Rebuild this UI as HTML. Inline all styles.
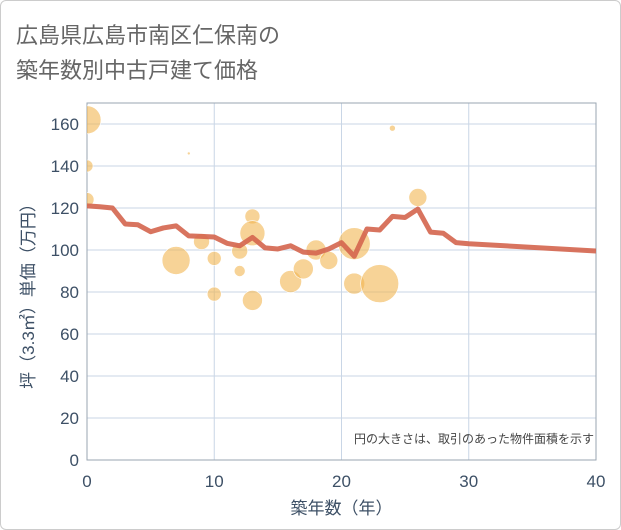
<!DOCTYPE html>
<html><head><meta charset="utf-8"><style>
body{margin:0;background:#fff;}
.card{position:absolute;left:0;top:0;width:619px;height:528px;border:1px solid #ccc;border-radius:6px;background:#fff;}
.t{position:absolute;left:16px;font:22px "Liberation Sans","Noto Sans CJK JP",sans-serif;color:#666;}
svg{position:absolute;left:0;top:0;}
text{font-family:"Liberation Sans","Noto Sans CJK JP",sans-serif;}
</style></head><body>
<div class="card"></div>
<div class="t" style="top:18px">広島県広島市南区仁保南の</div>
<div class="t" style="top:53px">築年数別中古戸建て価格</div>
<svg id="c" width="621" height="530"><defs><clipPath id="pc"><rect x="87" y="103" width="509" height="357"/></clipPath></defs></svg>
<script>
const xTicks=[0,10,20,30,40];
const yTicks=[0,20,40,60,80,100,120,140,160];
const lineYears=[0,1,2,3,4,5,6,7,8,9,10,11,12,13,14,15,16,17,18,19,20,21,22,23,24,25,26,27,28,29,30,40];
const lineValues=[121,120.6,120,112.4,112,108.7,110.5,111.5,106.7,106.5,106.2,103.2,102,106,101,100.5,102,99,98.5,100.5,103.5,97,110,109.5,116,115.5,119.5,108.5,108,103.5,103,99.5];
const bubbleYears=[0,0,0,8,9,7,10,10,12,12,13,13,13,16,17,18,19,21,21,23,24,26];
const bubbleValues=[162,140,124,146,104,95,96,79,99.5,90,116,108,76,85,91,100,95,103,84,84,158,125];
const bubbleSizes=[14,6,7,1.5,8,14,7,7,8,5.5,7.5,12.5,10,11,10,10,9,16,10.5,19,3,9];
const X0=87,X1=596,Y0=460,YT=103;
const sx=v=>X0+(v/40)*(X1-X0);
const sy=v=>Y0-v*2.1;
const svg=document.getElementById('c');const NS='http://www.w3.org/2000/svg';
function mk(t,a,par){const e=document.createElementNS(NS,t);for(const k in a)e.setAttribute(k,a[k]);(par||svg).appendChild(e);return e;}
yTicks.forEach(v=>{const l=mk('line',{x1:X0,x2:X1,y1:sy(v),y2:sy(v),stroke:'#c9d6e6','stroke-width':1});


const t=mk('text',{x:X0-8,y:sy(v)+6,'text-anchor':'end','font-size':17,fill:'#3d5066'});t.textContent=v;

});
xTicks.forEach(v=>{const l=mk('line',{x1:sx(v),x2:sx(v),y1:YT,y2:Y0,stroke:'#c9d6e6','stroke-width':1});


const t=mk('text',{x:sx(v),y:Y0+27,'text-anchor':'middle','font-size':17,fill:'#3d5066'});t.textContent=v;

});
const fr=mk('rect',{x:X0,y:YT,width:X1-X0,height:Y0-YT,fill:'none',stroke:'#9aa6b2'});


const g=mk('g',{'clip-path':'url(#pc)'});


bubbleYears.forEach((y,i)=>{const c=mk('circle',{cx:sx(y),cy:sy(bubbleValues[i]),r:bubbleSizes[i],fill:'#f2b551','fill-opacity':0.6,stroke:'#fff','stroke-width':0.6},g);

});
const p=mk('polyline',{points:lineYears.map((y,i)=>sx(y)+','+sy(lineValues[i])).join(' '),fill:'none',stroke:'#d4654e','stroke-opacity':0.9,'stroke-width':5,'stroke-linejoin':'round'},g);


const n=mk('text',{x:594,y:443,'text-anchor':'end','font-size':12,fill:'#444'});n.textContent='円の大きさは、取引のあった物件面積を示す';


const xt=mk('text',{x:(X0+X1)/2,y:514,'text-anchor':'middle','font-size':17,fill:'#3d5066'});xt.textContent='築年数（年）';


const yt=mk('text',{x:0,y:0,'text-anchor':'middle','font-size':17,fill:'#3d5066',transform:'translate(34,292) rotate(-90)'});yt.textContent='坪（3.3㎡）単価（万円）';


</script>
</body></html>
